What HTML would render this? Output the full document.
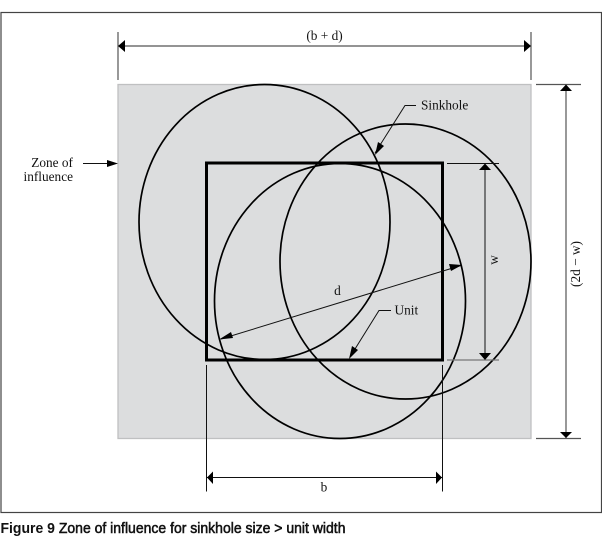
<!DOCTYPE html>
<html><head><meta charset="utf-8"><style>
html,body{margin:0;padding:0;background:#fff}
svg{display:block}
text{font-family:"Liberation Serif",serif;font-size:13.3px;fill:#111}
</style></head><body>
<svg width="602" height="542" viewBox="0 0 602 542" xmlns="http://www.w3.org/2000/svg">
<rect x="1" y="12.5" width="600.5" height="500" fill="#fff" stroke="#444" stroke-width="1.2"/>
<rect x="118" y="84.500" width="413" height="354" fill="#dcddde" stroke="#bfc0c1" stroke-width="1.300"/>
<g fill="none" stroke="#000" stroke-width="1.700">
<ellipse cx="264.500" cy="222" rx="125.500" ry="137.500"/>
<ellipse cx="405.500" cy="261.500" rx="125.500" ry="137.500"/>
<ellipse cx="340" cy="301" rx="125.500" ry="137.500"/>
</g>
<rect x="206.500" y="163" width="236" height="197" fill="none" stroke="#000" stroke-width="3"/>
<g stroke="#555" stroke-width="1.200" fill="none">
<path d="M118 32V80M531 32V80M118 46H531"/>
<path d="M536 84.500H581M566 84.500V438.500M536 438.500H581"/>
</g>
<g stroke="#111" stroke-width="1" fill="none">
<path d="M447 163.500H499M485 163.500V360"/>
<path d="M447 360H499" stroke="#777" stroke-width="1.300"/>
<path d="M206.500 365V491.500M442.500 365V491.500M206.500 477.500H442.500"/>
<path d="M83 163.500H112"/>
<path d="M221 339L461 265.500"/>
<path d="M416 105.500H405L375 153"/>
<path d="M391 310.500H379L350 357"/>
</g>
<g fill="#000">
<path d="M118 46L125 40V52Z"/>
<path d="M531 46L524 40V52Z"/>
<path d="M566 84.500L560 91H572Z"/>
<path d="M566 438L560 432H572Z"/>
<path d="M485 163.500L479 170H491Z"/>
<path d="M485 360L479 353H491Z"/>
<path d="M207 477.500L213 471.500V484Z"/>
<path d="M442 477.500L436 471.500V484Z"/>
<path d="M118 163.500L107 160V167Z"/>
<path d="M219 339.500L231 332L233 338Z"/>
<path d="M462 265L449 264L451 271Z"/>
<path d="M375 155L378 142L384 146Z"/>
<path d="M349 359L352 346L358 350Z"/>
</g>
<text x="324.500" y="40" text-anchor="middle">(b + d)</text>
<text x="421" y="109.500">Sinkhole</text>
<text x="73" y="167" text-anchor="end">Zone of</text>
<text x="73" y="181" text-anchor="end">influence</text>
<text x="337.500" y="295" text-anchor="middle">d</text>
<text x="394.500" y="314.500">Unit</text>
<text x="324" y="491.500" text-anchor="middle">b</text>
<text transform="translate(498,260) rotate(-90)" text-anchor="middle">w</text>
<text transform="translate(580,264) rotate(-90)" text-anchor="middle">(2d − w)</text>
<text x="0.500" y="533" textLength="345" lengthAdjust="spacingAndGlyphs" style="font-family:'Liberation Sans',sans-serif;font-size:15px;font-weight:bold;fill:#111">Figure 9<tspan style="font-weight:normal;stroke:#111;stroke-width:0.55"> Zone of influence for sinkhole size &gt; unit width</tspan></text>
</svg>
</body></html>
